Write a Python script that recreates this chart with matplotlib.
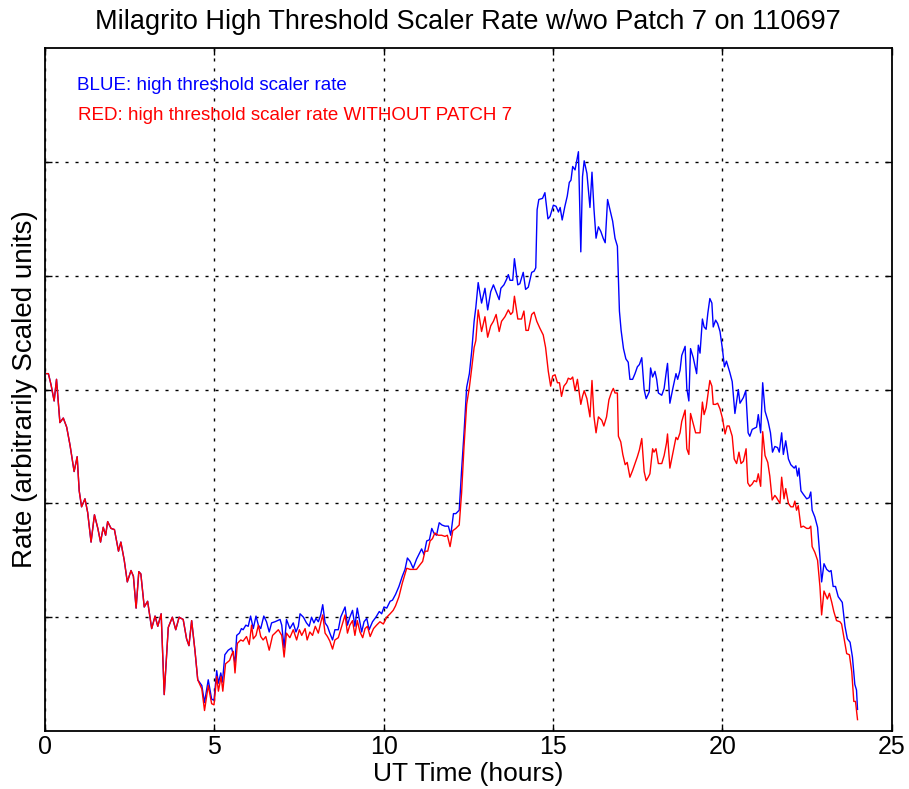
import numpy as np
import matplotlib
matplotlib.use("Agg")
import matplotlib.pyplot as plt

plt.rcParams['font.family'] = ['Liberation Sans', 'DejaVu Sans']
plt.rcParams['lines.scale_dashes'] = False

# early part, both curves lie on top of each other
hours_common = [0.05, 0.10, 0.18, 0.27, 0.34, 0.44, 0.54, 0.64, 0.74, 0.86, 0.95, 1.01, 1.08, 1.18,
                1.26, 1.36, 1.46, 1.56, 1.64, 1.72, 1.79, 1.85, 1.95, 2.05, 2.17, 2.24, 2.34, 2.43,
                2.54, 2.61, 2.69, 2.77, 2.83, 2.93, 3.03, 3.15, 3.25, 3.33, 3.43, 3.52, 3.64, 3.76,
                3.86, 3.96, 4.08, 4.18, 4.25, 4.33, 4.43, 4.51]
rate_common = [3.14, 3.14, 3.04, 2.90, 3.09, 2.71, 2.75, 2.67, 2.51, 2.28, 2.41, 2.11, 1.97, 2.04,
               1.92, 1.66, 1.90, 1.78, 1.66, 1.79, 1.72, 1.84, 1.78, 1.77, 1.58, 1.66, 1.50, 1.31,
               1.41, 1.36, 1.08, 1.40, 1.38, 1.09, 1.14, 0.90, 1.01, 0.92, 1.03, 0.32, 0.91, 1.00,
               0.89, 1.00, 0.98, 0.81, 0.75, 0.97, 0.70, 0.45]

# blue: high threshold scaler rate
hours_blue = [4.63, 4.71, 4.82, 4.92, 4.99, 5.07, 5.12, 5.19, 5.24, 5.31, 5.41, 5.51, 5.61, 5.66,
              5.74, 5.80, 5.85, 5.93, 6.00, 6.07, 6.15, 6.23, 6.30, 6.37, 6.46, 6.54, 6.62, 6.69,
              6.79, 6.94, 6.99, 7.06, 7.13, 7.23, 7.33, 7.41, 7.48, 7.53, 7.63, 7.72, 7.80, 7.87,
              7.94, 8.00, 8.07, 8.14, 8.20, 8.27, 8.34, 8.41, 8.49, 8.56, 8.66, 8.73, 8.86, 8.93,
              9.00, 9.08, 9.15, 9.22, 9.30, 9.35, 9.42, 9.50, 9.57, 9.67, 9.77, 9.87, 9.94, 10.01,
              10.09, 10.19, 10.26, 10.35, 10.45, 10.55, 10.63, 10.70, 10.78, 10.87, 10.97, 11.12,
              11.19, 11.27, 11.35, 11.42, 11.48, 11.56, 11.64, 11.72, 11.81, 11.91, 11.98, 12.06,
              12.13, 12.23, 12.30, 12.37, 12.45, 12.53, 12.60, 12.67, 12.72, 12.79, 12.89, 12.99,
              13.07, 13.16, 13.24, 13.32, 13.41, 13.46, 13.55, 13.63, 13.68, 13.73, 13.81, 13.86,
              13.96, 14.02, 14.12, 14.19, 14.27, 14.37, 14.44, 14.49, 14.53, 14.58, 14.69, 14.76,
              14.85, 14.91, 15.01, 15.09, 15.16, 15.21, 15.27, 15.35, 15.42, 15.48, 15.53, 15.58,
              15.65, 15.75, 15.82, 15.87, 15.92, 16.00, 16.09, 16.15, 16.21, 16.27, 16.34, 16.41,
              16.48, 16.54, 16.61, 16.68, 16.76, 16.83, 16.90, 16.93, 16.96, 17.01, 17.08, 17.15,
              17.22, 17.27, 17.35, 17.42, 17.49, 17.55, 17.62, 17.69, 17.75, 17.84, 17.88, 17.94,
              18.01, 18.06, 18.11, 18.21, 18.28, 18.35, 18.38, 18.45, 18.53, 18.63, 18.68, 18.75,
              18.80, 18.90, 18.95, 19.01, 19.06, 19.14, 19.24, 19.29, 19.34, 19.41, 19.46, 19.52,
              19.57, 19.63, 19.69, 19.73, 19.80, 19.86, 19.93, 20.00, 20.06, 20.12, 20.22, 20.29,
              20.37, 20.47, 20.52, 20.62, 20.69, 20.76, 20.81, 20.88, 21.01, 21.06, 21.13, 21.19,
              21.26, 21.35, 21.42, 21.48, 21.55, 21.63, 21.68, 21.75, 21.80, 21.87, 21.95, 22.02,
              22.12, 22.17, 22.22, 22.26, 22.32, 22.39, 22.49, 22.56, 22.61, 22.65, 22.73, 22.81,
              22.88, 22.93, 23.00, 23.08, 23.16, 23.21, 23.27, 23.34, 23.42, 23.47, 23.54, 23.62,
              23.69, 23.77, 23.84, 23.91, 23.96, 23.99]
rate_blue = [0.40, 0.25, 0.45, 0.28, 0.27, 0.53, 0.42, 0.51, 0.43, 0.67, 0.71, 0.73, 0.60, 0.84,
             0.86, 0.90, 0.89, 0.93, 0.92, 1.01, 0.90, 1.01, 0.93, 0.90, 1.01, 0.96, 0.87, 0.95,
             0.96, 0.98, 0.93, 0.73, 0.98, 0.90, 0.95, 0.87, 0.92, 1.03, 1.00, 0.95, 0.92, 1.00,
             0.95, 0.99, 0.96, 1.02, 1.11, 0.95, 0.92, 0.86, 0.80, 0.89, 0.89, 1.00, 1.09, 0.93,
             1.00, 1.06, 0.92, 1.08, 0.95, 0.87, 0.96, 0.99, 0.89, 0.96, 1.00, 1.05, 1.03, 1.09,
             1.08, 1.14, 1.15, 1.20, 1.27, 1.36, 1.42, 1.52, 1.49, 1.43, 1.51, 1.60,
             1.55, 1.67, 1.68, 1.78, 1.74, 1.72, 1.83, 1.81, 1.80, 1.80, 1.72, 1.91,
             1.91, 1.94, 2.29, 2.61, 3.02, 3.14, 3.34, 3.60, 3.72, 3.94, 3.76, 3.89,
             3.70, 3.86, 3.92, 3.86, 3.79, 3.89, 3.92, 3.97, 4.01, 3.96, 3.96, 4.15,
             3.92, 3.93, 4.03, 3.88, 3.90, 4.03, 4.04, 4.07, 4.58, 4.67, 4.68, 4.73,
             4.50, 4.52, 4.62, 4.61, 4.56, 4.60, 4.49, 4.61, 4.70, 4.82, 4.84, 4.96,
             4.93, 5.09, 4.21, 4.87, 5.01, 4.90, 4.60, 4.91, 4.58, 4.33, 4.43, 4.39,
             4.33, 4.29, 4.67, 4.58, 4.48, 4.33, 4.26, 3.96, 3.69, 3.52, 3.36, 3.27,
             3.24, 3.09, 3.09, 3.14, 3.20, 3.22, 3.28, 3.00, 2.92, 2.98, 3.19, 3.11,
             3.16, 3.09, 2.97, 2.95, 3.01, 3.17, 3.23, 2.88, 3.00, 3.14, 3.09, 3.17,
             3.30, 3.38, 3.01, 2.90, 3.36, 3.28, 3.14, 3.39, 3.32, 3.62, 3.55, 3.53,
             3.67, 3.80, 3.76, 3.55, 3.61, 3.58, 3.51, 3.36, 3.20, 3.25, 3.15, 3.07,
             2.79, 3.00, 2.88, 2.93, 2.99, 2.62, 2.59, 2.65, 2.67, 2.78, 2.62, 3.06,
             2.81, 2.72, 2.62, 2.45, 2.50, 2.49, 2.45, 2.62, 2.43, 2.55, 2.39, 2.34,
             2.31, 2.33, 2.24, 2.31, 2.11, 2.08, 2.04, 2.05, 2.10, 1.94, 1.88, 1.79,
             1.53, 1.31, 1.47, 1.42, 1.40, 1.41, 1.27, 1.27, 1.18, 1.16, 1.13, 0.92,
             0.81, 0.78, 0.65, 0.41, 0.36, 0.19]

# red: high threshold scaler rate without patch 7
hours_red = [4.63, 4.71, 4.82, 4.92, 4.99, 5.07, 5.12, 5.20, 5.25, 5.33, 5.45, 5.51, 5.56, 5.61,
             5.68, 5.78, 5.85, 5.95, 6.03, 6.10, 6.15, 6.23, 6.30, 6.37, 6.44, 6.52, 6.62, 6.72,
             6.79, 6.89, 6.99, 7.06, 7.13, 7.23, 7.33, 7.43, 7.51, 7.58, 7.68, 7.74, 7.82, 7.90,
             7.98, 8.07, 8.14, 8.20, 8.27, 8.34, 8.41, 8.49, 8.56, 8.66, 8.76, 8.86, 8.93, 9.00,
             9.08, 9.15, 9.22, 9.30, 9.38, 9.45, 9.52, 9.60, 9.70, 9.79, 9.89, 9.99, 10.09, 10.19,
             10.28, 10.35, 10.45, 10.55, 10.68, 10.78, 10.87, 10.97, 11.07, 11.15, 11.22, 11.30,
             11.37, 11.44, 11.51, 11.61, 11.71, 11.81, 11.88, 11.96, 12.04, 12.13, 12.23, 12.30,
             12.37, 12.45, 12.53, 12.60, 12.67, 12.72, 12.79, 12.89, 12.99, 13.07, 13.16, 13.24,
             13.32, 13.41, 13.48, 13.58, 13.68, 13.75, 13.81, 13.86, 13.96, 14.07, 14.14, 14.20,
             14.27, 14.37, 14.44, 14.52, 14.61, 14.71, 14.78, 14.86, 14.93, 14.99, 15.06, 15.13,
             15.19, 15.25, 15.32, 15.40, 15.45, 15.52, 15.58, 15.65, 15.72, 15.82, 15.87, 15.92,
             16.00, 16.09, 16.15, 16.21, 16.27, 16.34, 16.44, 16.50, 16.58, 16.65, 16.73, 16.78,
             16.83, 16.90, 16.93, 17.00, 17.06, 17.13, 17.19, 17.27, 17.35, 17.42, 17.49, 17.55,
             17.62, 17.69, 17.75, 17.81, 17.86, 17.94, 17.98, 18.04, 18.11, 18.21, 18.28, 18.35,
             18.38, 18.45, 18.53, 18.63, 18.68, 18.75, 18.80, 18.90, 18.95, 19.01, 19.06, 19.14,
             19.21, 19.29, 19.34, 19.41, 19.46, 19.52, 19.57, 19.63, 19.69, 19.73, 19.80, 19.86,
             19.93, 20.00, 20.08, 20.14, 20.20, 20.29, 20.35, 20.42, 20.49, 20.55, 20.62, 20.70,
             20.75, 20.81, 20.88, 20.94, 21.01, 21.06, 21.13, 21.19, 21.26, 21.34, 21.40, 21.47,
             21.55, 21.60, 21.70, 21.75, 21.82, 21.87, 21.95, 22.02, 22.09, 22.14, 22.19, 22.24,
             22.32, 22.39, 22.49, 22.56, 22.61, 22.65, 22.73, 22.81, 22.88, 22.93, 23.00, 23.10,
             23.16, 23.23, 23.29, 23.37, 23.47, 23.52, 23.60, 23.67, 23.75, 23.82, 23.88, 23.93,
             23.99]
rate_red = [0.37, 0.18, 0.40, 0.24, 0.23, 0.48, 0.35, 0.48, 0.35, 0.59, 0.62, 0.67, 0.70, 0.51,
            0.77, 0.80, 0.79, 0.83, 0.76, 0.93, 0.81, 0.84, 0.93, 0.83, 0.80, 0.83, 0.71, 0.84,
            0.86, 0.89, 0.84, 0.65, 0.86, 0.82, 0.89, 0.80, 0.89, 0.84, 0.90, 0.80, 0.87, 0.84,
            0.92, 0.86, 0.95, 1.02, 0.86, 0.83, 0.79, 0.72, 0.80, 0.82, 0.92, 1.02, 0.86, 0.93,
            0.97, 0.84, 0.97, 0.87, 0.82, 0.90, 0.92, 0.83, 0.90, 0.93, 0.96, 0.94, 1.00, 1.03,
            1.06, 1.10, 1.18, 1.30, 1.43, 1.42, 1.42, 1.42, 1.46, 1.49, 1.58, 1.58,
            1.67, 1.69, 1.74, 1.72, 1.72, 1.71, 1.72, 1.62, 1.76, 1.78, 1.81, 2.09,
            2.49, 2.87, 3.02, 3.19, 3.37, 3.43, 3.70, 3.51, 3.64, 3.46, 3.56, 3.60,
            3.66, 3.51, 3.60, 3.64, 3.70, 3.66, 3.68, 3.82, 3.62, 3.62, 3.69, 3.52,
            3.52, 3.66, 3.68, 3.60, 3.54, 3.48, 3.37, 3.16, 3.03, 3.12, 3.13, 3.06,
            3.06, 2.94, 3.03, 3.06, 3.10, 3.09, 3.11, 2.99, 3.09, 2.87, 2.94, 2.99,
            2.92, 2.76, 3.08, 2.76, 2.62, 2.76, 2.73, 2.68, 2.76, 2.91, 2.98, 3.01,
            2.97, 2.97, 2.59, 2.54, 2.43, 2.34, 2.36, 2.23, 2.29, 2.35, 2.41, 2.47,
            2.57, 2.28, 2.20, 2.23, 2.26, 2.48, 2.45, 2.48, 2.35, 2.35, 2.42, 2.53,
            2.61, 2.31, 2.43, 2.58, 2.56, 2.62, 2.72, 2.82, 2.48, 2.43, 2.79, 2.70,
            2.62, 2.62, 2.62, 2.89, 2.78, 2.84, 2.95, 3.08, 3.03, 2.87, 2.87, 2.88,
            2.83, 2.75, 2.61, 2.68, 2.68, 2.59, 2.39, 2.35, 2.45, 2.35, 2.37, 2.48,
            2.18, 2.15, 2.17, 2.20, 2.19, 2.26, 2.15, 2.63, 2.42, 2.36, 2.24, 2.03,
            2.07, 2.05, 2.00, 2.23, 2.04, 2.13, 2.00, 1.97, 1.97, 2.02, 1.94, 1.98,
            1.79, 1.80, 1.78, 1.78, 1.80, 1.62, 1.57, 1.50, 1.27, 1.02, 1.23, 1.16,
            1.21, 1.13, 1.05, 0.97, 0.96, 0.94, 0.80, 0.68, 0.67, 0.52, 0.26, 0.26,
            0.10]

x_ticks = [0, 5, 10, 15, 20, 25]
y_grid = [1, 2, 3, 4, 5]

blue_x = np.concatenate([hours_common, hours_blue])
blue_y = np.concatenate([rate_common, rate_blue])
red_x = np.concatenate([hours_common, hours_red])
red_y = np.concatenate([rate_common, rate_red])

fig = plt.figure(figsize=(9.09, 7.89), dpi=100)
ax = fig.add_axes([0.0495, 0.0735, 0.9315, 0.8655])

ax.plot(blue_x, blue_y, color='#0000ff', lw=1.0)
ax.plot(red_x, red_y, color='#ff0000', lw=1.0)

ax.set_xlim(0, 25)
ax.set_ylim(0, 6)
ax.set_xticks(x_ticks)
ax.set_yticks(y_grid)
ax.set_yticklabels([])
ax.tick_params(direction='in', length=5, width=1, top=True, right=True, labelsize=18, pad=3)
ax.grid(True, color='black', linestyle=(0, (2.2, 5)), linewidth=1.0)
for s in ax.spines.values():
    s.set_linewidth(1.3)

ax.set_title('Milagrito High Threshold Scaler Rate w/wo Patch 7 on 110697', fontsize=19.5, pad=14)
ax.set_xlabel('UT Time (hours)', fontsize=19, labelpad=2)
ax.set_ylabel('Rate (arbitrarily Scaled units)', fontsize=20, labelpad=2)

ax.text(0.038, 0.946, 'BLUE: high threshold scaler rate', color='#0000ff',
        fontsize=13.5, transform=ax.transAxes, va='center')
ax.text(0.039, 0.902, 'RED: high threshold scaler rate WITHOUT PATCH 7', color='#ff0000',
        fontsize=13.5, transform=ax.transAxes, va='center')

fig.savefig('out.png', dpi=100)
